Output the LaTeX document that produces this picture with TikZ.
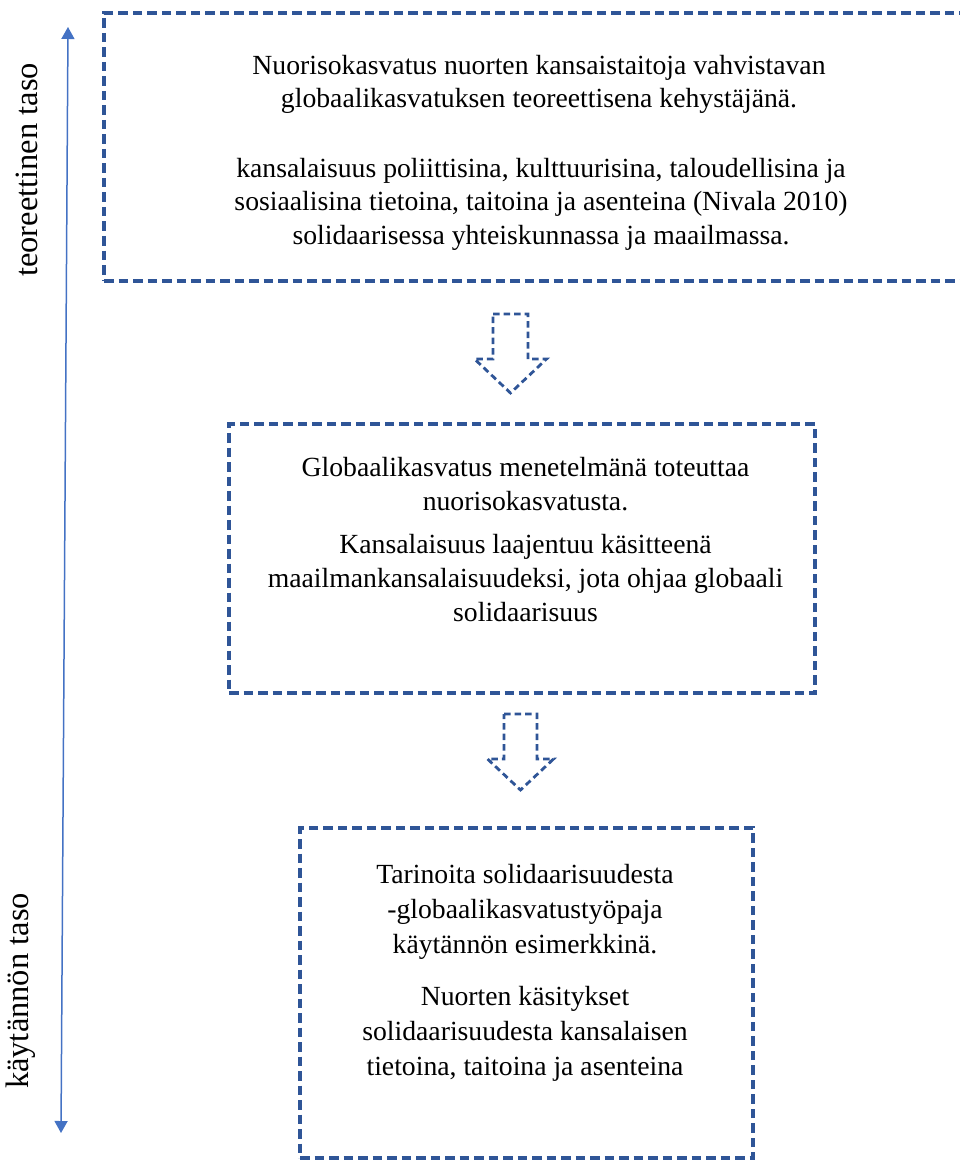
\documentclass[tikz,border=0pt]{standalone}
\usepackage{fontspec}
\setmainfont{Liberation Serif}
\usetikzlibrary{arrows.meta}
\definecolor{boxblue}{HTML}{2F5597}
\definecolor{axisblue}{HTML}{4472C4}
\begin{document}
\begin{tikzpicture}[x=1pt,y=-1pt,
  dbox/.style={draw=boxblue, line width=3.2pt, dash pattern=on 9.5pt off 5pt, inner sep=0pt},
  barrow/.style={draw=boxblue, line width=2.8pt, dash pattern=on 6.5pt off 4pt, line join=miter},
  txta/.style={inner sep=0pt, align=center, anchor=north, font=\fontsize{27.7}{33.5}\selectfont},
  txtb/.style={inner sep=0pt, align=center, anchor=north, font=\fontsize{27.7}{34}\selectfont},
  txtc/.style={inner sep=0pt, align=center, anchor=north, font=\fontsize{27.7}{35}\selectfont},
  lbl/.style={inner sep=0pt, rotate=90, anchor=base, font=\fontsize{32.5}{38}\selectfont},
  axis/.style={draw=axisblue, line width=1.5pt, {Triangle[length=12pt,width=13pt]}-{Triangle[length=12pt,width=13pt]}}
]
\useasboundingbox (0,0) rectangle (959,1161);

% boxes
\node[dbox, minimum width=871pt, minimum height=268pt] (b1) at (539.5,147) {};
\node[dbox, minimum width=586pt, minimum height=269pt] (b2) at (522,558.5) {};
\node[dbox, minimum width=453pt, minimum height=330pt] (b3) at (526.5,993) {};

% box 1 text
\node[txta] (t1a) at (539,50.5) {\strut Nuorisokasvatus nuorten kansaistaitoja vahvistavan\\\strut globaalikasvatuksen teoreettisena kehystäjänä.};
\node[txta] (t1b) at (541,153.5) {\strut kansalaisuus poliittisina, kulttuurisina, taloudellisina ja\\\strut sosiaalisina tietoina, taitoina ja asenteina (Nivala 2010)\\\strut solidaarisessa yhteiskunnassa ja maailmassa.};

% box 2 text
\node[txtb] (t2a) at (525.5,452.2) {\strut Globaalikasvatus menetelmänä toteuttaa\\\strut nuorisokasvatusta.};
\node[txtb] (t2b) at (525.5,529.2) {\strut Kansalaisuus laajentuu käsitteenä\\\strut maailmankansalaisuudeksi, jota ohjaa globaali\\\strut solidaarisuus};

% box 3 text
\node[txtc] (t3a) at (525,858.5) {\strut Tarinoita solidaarisuudesta\\\strut -globaalikasvatustyöpaja\\\strut käytännön esimerkkinä.};
\node[txtc] (t3b) at (525,980.5) {\strut Nuorten käsitykset\\\strut solidaarisuudesta kansalaisen\\\strut tietoina, taitoina ja asenteina};

% block arrows
\coordinate (a1) at (510.5,314);
\draw[barrow] (a1) ++(-17.5,0) -- ++(35,0) -- ++(0,45) -- ++(18.5,0) -- ++(-36,34) -- ++(-36,-34) -- ++(18.5,0) -- cycle;
\coordinate (a2) at (520.5,714);
\draw[barrow] (a2) ++(-16.5,0) -- ++(33,0) -- ++(0,45) -- ++(16.5,0) -- ++(-33,31) -- ++(-33,-31) -- ++(16.5,0) -- cycle;

% axis
\coordinate (axtop) at (68,27);
\coordinate (axbot) at (61,1133);
\draw[axis] (axbot) -- (axtop);
\node[lbl] (l1) at (37,170) {teoreettinen taso};
\node[lbl] (l2) at (28,991) {käytännön taso};
\end{tikzpicture}
\end{document}
